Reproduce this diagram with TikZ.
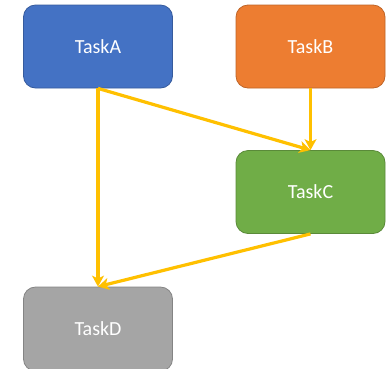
\documentclass[tikz,border=0pt]{standalone}
\usepackage{fontspec}
\setmainfont{Carlito}
\usetikzlibrary{arrows.meta}
\definecolor{cA}{HTML}{4472C4}
\definecolor{cB}{HTML}{ED7D31}
\definecolor{cC}{HTML}{70AD47}
\definecolor{cD}{HTML}{A5A5A5}
\definecolor{cArrow}{HTML}{FFC000}
\tikzset{
  task/.style={rounded corners=12pt, minimum width=149pt, minimum height=83pt,
    text=white, font=\fontsize{20}{24}\selectfont, inner sep=0pt, line width=0.8pt},
  conn/.style={draw=cArrow, line width=3.2pt, -{Stealth[length=11pt,width=12pt,inset=3pt]}}
}
\begin{document}
\begin{tikzpicture}[x=1pt,y=-1pt]
\useasboundingbox (0,0) rectangle (387,368);
\node[task, fill=cA, draw=cA!80!black] (a) at (98,46.5) {TaskA};
\node[task, fill=cB, draw=cB!80!black] (b) at (310.5,46.5) {TaskB};
\node[task, fill=cC, draw=cC!80!black] (c) at (310.5,192) {TaskC};
\node[task, fill=cD, draw=cD!80!black, minimum height=84pt] (d) at (98,329) {TaskD};
\draw[conn] (a.south) -- (d.north);
\draw[conn] (a.south) -- (c.north);
\draw[conn] (b.south) -- (c.north);
\draw[conn] (c.south) -- (d.north);
\end{tikzpicture}
\end{document}
